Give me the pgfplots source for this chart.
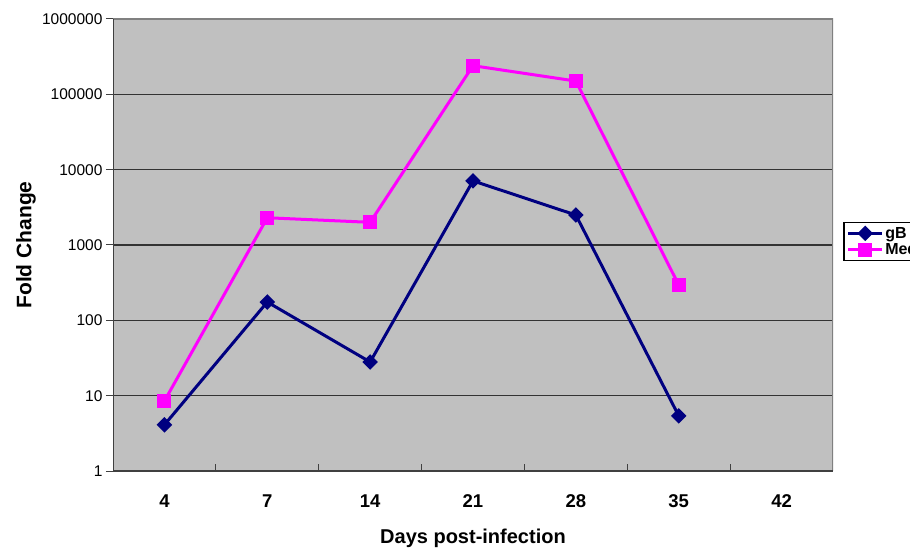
\documentclass[border=0pt]{standalone}
\usepackage{pgfplots}
\pgfplotsset{compat=1.18}
\usepackage{fontspec}
\setmainfont{Liberation Sans}
\definecolor{plotbg}{HTML}{C0C0C0}
\definecolor{navyc}{HTML}{000080}
\definecolor{magc}{HTML}{FF00FF}
\begin{document}
\begin{tikzpicture}
\begin{axis}[
  at={(113pt,78pt)}, anchor=south west,
  scale only axis, width=720pt, height=452pt,
  ymode=log, log basis y=10, ymin=1, ymax=1000000,
  xmin=-0.5, xmax=6.5,
  xtick={0,...,6}, xticklabels={4,7,14,21,28,35,42},
  ytick={1,10,100,1000,10000,100000,1000000},
  yticklabels={1,10,100,1000,10000,100000,1000000},
  minor xtick={0.5,1.5,...,5.5},
  yminorticks=false,
  tick pos=left,
  xtick align=inside,
  ytick align=outside,
  major tick length=7pt,
  minor tick length=7pt,
  major x tick style={draw=none},
  tick style={black!75, line width=1pt},
  ymajorgrids,
  major grid style={black!80, line width=1.2pt},
  axis line style={draw=none},
  axis background/.style={fill=plotbg},
  xticklabel style={font=\bfseries\fontsize{18.5}{20}\selectfont, yshift=-20pt},
  yticklabel style={font=\fontsize{15.5}{17}\selectfont},
  xlabel={Days post-infection},
  ylabel={Fold Change},
  xlabel style={font=\bfseries\fontsize{20}{22}\selectfont, at={(axis description cs:0.5,-0.148)}, anchor=center},
  ylabel style={font=\bfseries\fontsize{21}{24}\selectfont, at={(axis description cs:-0.121,0.5)}, anchor=center},
  legend style={at={(rel axis cs:1.0139,0.551)}, anchor=north west, draw=black, line width=1.5pt, fill=white,
    font=\bfseries\fontsize{16}{18}\selectfont, inner sep=3pt, row sep=1pt,
    nodes={inner sep=1.5pt}},
  legend cell align=left,
  legend image code/.code={\draw[mark repeat=2,mark phase=2,#1] plot coordinates {(0pt,0pt) (17pt,0pt) (34pt,0pt)};},
]
\addplot[navyc, line width=3pt, mark=square*, mark size=4pt, mark options={solid, fill=navyc, rotate=45}]
  coordinates {(0,4.1) (1,175) (2,28) (3,7100) (4,2500) (5,5.4)};
\addlegendentry{gB}
\addplot[magc, line width=3pt, mark=square*, mark size=5.5pt, mark options={solid, fill=magc}]
  coordinates {(0,8.5) (1,2300) (2,2000) (3,240000) (4,150000) (5,295)};
\addlegendentry{Meq}
\draw[gray, line width=1.5pt] (rel axis cs:0,1) -- (rel axis cs:1,1) -- (rel axis cs:1,0);
\draw[black!75, line width=1.5pt] (rel axis cs:0,1) -- (rel axis cs:0,0) -- (rel axis cs:1,0);
\end{axis}
\pgfresetboundingbox
\useasboundingbox (0,0) rectangle (910pt,549pt);
\end{tikzpicture}
\end{document}
